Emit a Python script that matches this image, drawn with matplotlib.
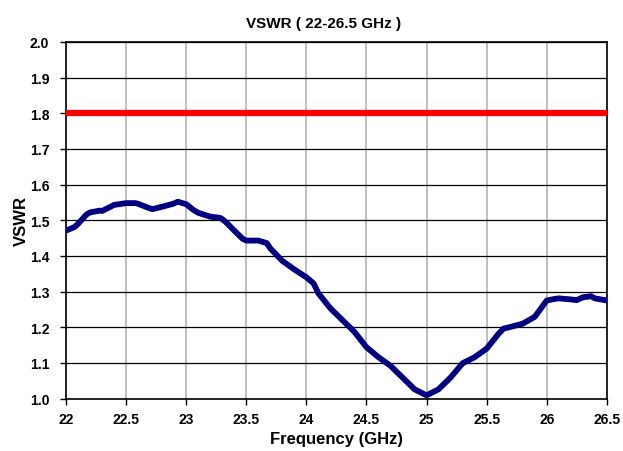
import matplotlib
matplotlib.use('Agg')
import matplotlib.pyplot as plt
from matplotlib.ticker import MultipleLocator

plt.rcParams['font.family'] = ['Liberation Sans', 'DejaVu Sans']

freq = [22.0, 22.07, 22.1, 22.17, 22.2, 22.28, 22.3, 22.4, 22.5, 22.58, 22.6,
        22.7, 22.72, 22.8, 22.89, 22.93, 23.0, 23.06, 23.1, 23.2, 23.28,
        23.3, 23.33, 23.4, 23.47, 23.5, 23.6, 23.67, 23.7, 23.8, 23.9,
        24.0, 24.06, 24.1, 24.2, 24.3, 24.4, 24.5, 24.6, 24.7, 24.8, 24.9,
        25.0, 25.1, 25.2, 25.3, 25.4, 25.5, 25.6, 25.64, 25.7, 25.8, 25.9,
        26.0, 26.06, 26.1, 26.2, 26.25, 26.3, 26.37, 26.4, 26.5]
vswr = [1.471, 1.481, 1.490, 1.516, 1.522, 1.527, 1.526, 1.543, 1.548, 1.548, 1.546,
        1.533, 1.531, 1.538, 1.546, 1.552, 1.545, 1.529, 1.521, 1.510, 1.507,
        1.503, 1.495, 1.471, 1.448, 1.443, 1.443, 1.436, 1.421, 1.386, 1.362,
        1.340, 1.323, 1.295, 1.253, 1.220, 1.187, 1.144, 1.116, 1.092, 1.059, 1.026,
        1.009, 1.026, 1.059, 1.099, 1.116, 1.140, 1.182, 1.196, 1.201, 1.210, 1.229,
        1.275, 1.279, 1.281, 1.278, 1.276, 1.284, 1.287, 1.281, 1.275]
limit = 1.8

xticks = [22, 22.5, 23, 23.5, 24, 24.5, 25, 25.5, 26, 26.5]
xticklabels = ['22', '22.5', '23', '23.5', '24', '24.5', '25', '25.5', '26', '26.5']

fig = plt.figure(figsize=(6.23, 4.52), dpi=100)
ax = fig.add_axes([0.106, 0.116, 0.868, 0.789])

#------------------
ax.axhline(limit, color='#ff0000', lw=4.5, zorder=3)
ax.plot(freq, vswr, '-', color='#000080', lw=4.2, zorder=4,
        solid_capstyle='round', solid_joinstyle='round')

ax.set_xlim(22, 26.5)
ax.set_ylim(1.0, 2.0)
ax.set_xticks(xticks)
ax.set_xticklabels(xticklabels)
ax.yaxis.set_major_locator(MultipleLocator(0.1))
ax.set_yticklabels(['%.1f' % v for v in ax.get_yticks()])

ax.xaxis.grid(True, color='#b4b4b4', lw=1.2)
ax.yaxis.grid(True, color='#000000', lw=0.9)
ax.set_axisbelow(True)

for s in ax.spines.values():
    s.set_color('black')
    s.set_linewidth(1.2)

#------------------
ax.tick_params(direction='out', length=4, width=1, labelsize=10)
ax.tick_params(axis='y', pad=8)
ax.tick_params(axis='x', pad=6)
for lbl in ax.get_xticklabels() + ax.get_yticklabels():
    lbl.set_fontweight('bold')

ax.set_title('VSWR ( 22-26.5 GHz )', fontsize=11, fontweight='bold', pad=11, x=0.477)
ax.set_xlabel('Frequency (GHz)', fontsize=12, fontweight='bold', labelpad=3)
ax.set_ylabel('VSWR', fontsize=12, fontweight='bold', labelpad=1)

plt.savefig('out.png', dpi=100)
